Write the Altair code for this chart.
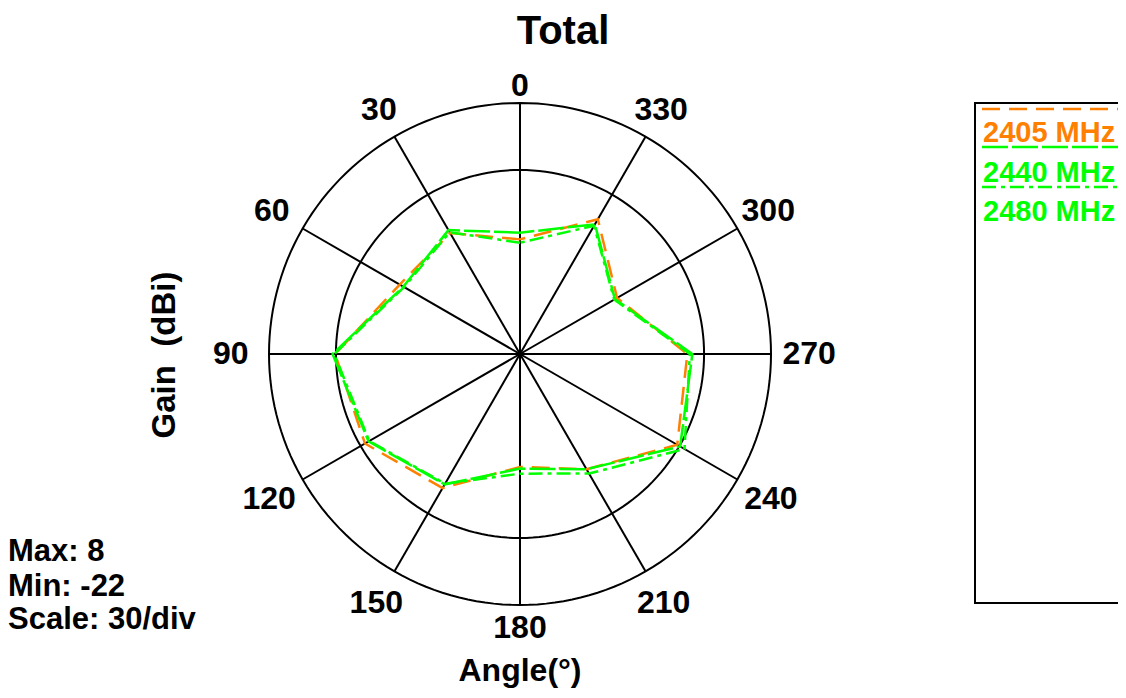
import altair as alt
import pandas as pd

# ---------------- data ----------------
angles = [0, 30, 60, 90, 120, 150, 180, 210, 240, 270, 300, 330]
series_names = ["2405 MHz", "2440 MHz", "2480 MHz"]
gain_2405 = [-8.3, -5.3, -5.4, 0.1, -0.6, -3.5, -8.5, -6.1, -0.3, -2.0, -8.6, -3.4]
gain_2440 = [-7.5, -4.9, -5.9, 0.4, -1.1, -4.0, -8.3, -6.1, 0.1, -1.4, -8.9, -4.1]
gain_2480 = [-8.7, -5.2, -6.0, 0.2, -1.2, -4.1, -7.7, -5.5, 0.7, -1.7, -9.0, -4.3]
series_colors = ["#FF8000", "#00FF00", "#00FF00"]
series_dashes = [[18, 9], [26, 4], [14, 5, 4, 5]]
ring_gains = [0, 8]
gain_min, gain_max = -22, 8
title_text = "Total"
y_title = "Gain\u00a0 (dBi)"
x_title = "Angle(°)"
info_lines = ["Max: 8", "Min: -22", "Scale: 30/div"]

# ---------------- layout ----------------
W, H = 1110, 680
CX, CY, R = 512, 346, 251
FONT = "Liberation Sans"

xs = alt.Scale(domain=[-CX / R, (W - CX) / R], nice=False, zero=False)
ys = alt.Scale(domain=[(CY - H) / R, CY / R], nice=False, zero=False)

rows = []
for name, gains in zip(series_names, [gain_2405, gain_2440, gain_2480]):
    for i, (a, g) in enumerate(zip(angles + [360], gains + [gains[0]])):
        rows.append({"series": name, "a": a, "g": g, "idx": i})
series_df = pd.DataFrame(rows)

ring_rows = []
for g in ring_gains:
    for a in range(0, 361, 2):
        ring_rows.append({"g": g, "a": a})
ring_df = pd.DataFrame(ring_rows)

spoke_df = pd.DataFrame({"a": angles})
label_df = pd.DataFrame({"a": angles, "label": [str(a) for a in angles]})

rn_expr = f"(datum.g - ({gain_min})) / ({gain_max - gain_min})"

rings = (
    alt.Chart(ring_df)
    .transform_calculate(rn=rn_expr)
    .transform_calculate(px="-datum.rn*sin(datum.a*PI/180)", py="datum.rn*cos(datum.a*PI/180)")
    .mark_line(color="black", strokeWidth=2)
    .encode(
        x=alt.X("px:Q", scale=xs, axis=None),
        y=alt.Y("py:Q", scale=ys, axis=None),
        detail="g:N",
        order="a:Q",
    )
)

spokes = (
    alt.Chart(spoke_df)
    .transform_calculate(
        x0="0", y0="0",
        x1="-sin(datum.a*PI/180)", y1="cos(datum.a*PI/180)",
    )
    .mark_rule(color="black", strokeWidth=2)
    .encode(
        x=alt.X("x0:Q", scale=xs, axis=None),
        y=alt.Y("y0:Q", scale=ys, axis=None),
        x2="x1:Q",
        y2="y1:Q",
    )
)

labels = (
    alt.Chart(label_df)
    .transform_calculate(
        rl="1.08 + 0.072*pow(abs(sin(datum.a*PI/180)), 0.4) - 0.012*cos(datum.a*PI/180)"
    )
    .transform_calculate(
        lx="-datum.rl*sin(datum.a*PI/180)", ly="datum.rl*cos(datum.a*PI/180)"
    )
    .mark_text(font=FONT, fontWeight="bold", fontSize=32, color="black",
               align="center", baseline="middle")
    .encode(
        x=alt.X("lx:Q", scale=xs, axis=None),
        y=alt.Y("ly:Q", scale=ys, axis=None),
        text="label:N",
    )
)

lines = (
    alt.Chart(series_df)
    .transform_calculate(rn=rn_expr)
    .transform_calculate(px="-datum.rn*sin(datum.a*PI/180)", py="datum.rn*cos(datum.a*PI/180)")
    .mark_line(strokeWidth=2.5)
    .encode(
        x=alt.X("px:Q", scale=xs, axis=None),
        y=alt.Y("py:Q", scale=ys, axis=None),
        color=alt.Color("series:N", scale=alt.Scale(domain=series_names, range=series_colors), legend=None),
        strokeDash=alt.StrokeDash("series:N", scale=alt.Scale(domain=series_names, range=series_dashes), legend=None),
        order="idx:Q",
    )
)

def txt(t, x, y, size=32, align="center", angle=0, color="black"):
    kw = dict(font=FONT, fontWeight="bold", fontSize=size, align=align,
              baseline="middle", color=color)
    if angle:
        kw["angle"] = angle
    return (
        alt.Chart(pd.DataFrame({"t": [t]}))
        .mark_text(**kw)
        .encode(x=alt.value(x), y=alt.value(y), text="t:N")
    )

layers = [rings, spokes, lines, labels]
layers.append(txt(title_text, 555, 24, size=40))
layers.append(txt(y_title, 157, 347, size=33, angle=270))
layers.append(txt(x_title, 512, 663, size=32))
for line_text, yy in zip(info_lines, [544, 579, 612]):
    layers.append(txt(line_text, 0, yy, size=31, align="left"))

# legend box
legend_box = (
    alt.Chart(pd.DataFrame({"k": [0]}))
    .mark_rect(fill="white", stroke="black", strokeWidth=2)
    .encode(x=alt.value(967), x2=alt.value(1140), y=alt.value(95), y2=alt.value(595))
)
layers.append(legend_box)
for name, col, dash, ly, ty in zip(series_names, series_colors, series_dashes,
                                    [101, 139, 179], [125, 165, 204]):
    layers.append(
        alt.Chart(pd.DataFrame({"k": [0]}))
        .mark_rule(color=col, strokeWidth=2.5, strokeDash=dash)
        .encode(x=alt.value(974), x2=alt.value(1115), y=alt.value(ly))
    )
    layers.append(txt(name, 975, ty, size=29, align="left", color=col))

chart = (
    alt.layer(*layers)
    .properties(width=W, height=H, autosize=alt.AutoSizeParams(type="none"), padding=0,
                background="white")
    .configure_view(stroke=None)
)

chart.save("out.html", embed_options={"renderer": "svg", "actions": False})
